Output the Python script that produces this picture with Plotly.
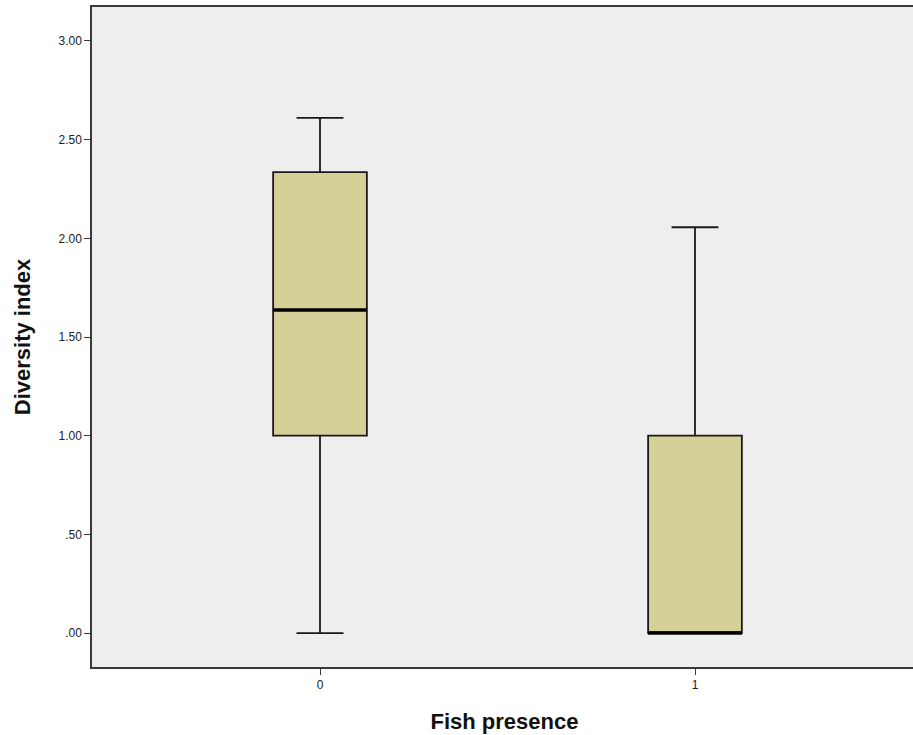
import plotly.graph_objects as go

# Data
groups = [0, 1]
group_labels = ["0", "1"]
q1 = [1.00, 0.00]
median = [1.637, 0.00]
q3 = [2.335, 1.00]
lowerfence = [0.00, 0.00]
upperfence = [2.61, 2.056]

y_tickvals = [0, 0.5, 1.0, 1.5, 2.0, 2.5, 3.0]
y_ticktext = [".00", ".50", "1.00", "1.50", "2.00", "2.50", "3.00"]

BOX_W = 0.25
FILL = "#d5cf98"
BG = "#eeeeee"
AXIS_C = "#3a3a3a"
TITLE_FONT = dict(family="Liberation Sans, Arial, sans-serif", size=22, color="#111111")

fig = go.Figure()
fig.add_trace(go.Box(
    x=groups, q1=q1, median=median, q3=q3,
    lowerfence=lowerfence, upperfence=upperfence,
    width=BOX_W, whiskerwidth=0.5,
    fillcolor=FILL, line=dict(color="#1a1a1a", width=1.8),
    boxpoints=False, hoverinfo="skip", showlegend=False,
))
# thick median lines
for g, m in zip(groups, median):
    fig.add_trace(go.Scatter(
        x=[g - BOX_W / 2, g + BOX_W / 2], y=[m, m], mode="lines",
        line=dict(color="#000000", width=3.5), showlegend=False, hoverinfo="skip",
    ))

fig.update_layout(
    width=917, height=735,
    margin=dict(l=92, r=0, t=7, b=68),
    paper_bgcolor="white", plot_bgcolor=BG,
    font=dict(family="Liberation Sans, Arial, sans-serif", size=12, color="#222222"),
    showlegend=False,
)
fig.update_xaxes(
    range=[-0.608, 1.592], tickvals=groups, ticktext=group_labels,
    showgrid=False, zeroline=False,
    showline=True, mirror=True, linecolor=AXIS_C, linewidth=1.5,
    ticks="outside", ticklen=6, tickcolor=AXIS_C, tickwidth=1.2,
    title=dict(text="<b>Fish presence</b>", standoff=22, font=TITLE_FONT),
)
fig.update_yaxes(
    range=[-0.172, 3.172], tickvals=y_tickvals, ticktext=y_ticktext,
    showgrid=False, zeroline=False,
    showline=True, mirror=False, linecolor=AXIS_C, linewidth=1.5,
    ticks="outside", ticklen=6, tickcolor=AXIS_C, tickwidth=1.2,
    title=dict(text="<b>Diversity index</b>", standoff=22, font=TITLE_FONT),
)

fig.write_html(
    "out.html",
    config={"displayModeBar": False},
    post_script="document.body.style.margin='0';document.body.style.overflow='hidden';",
)
